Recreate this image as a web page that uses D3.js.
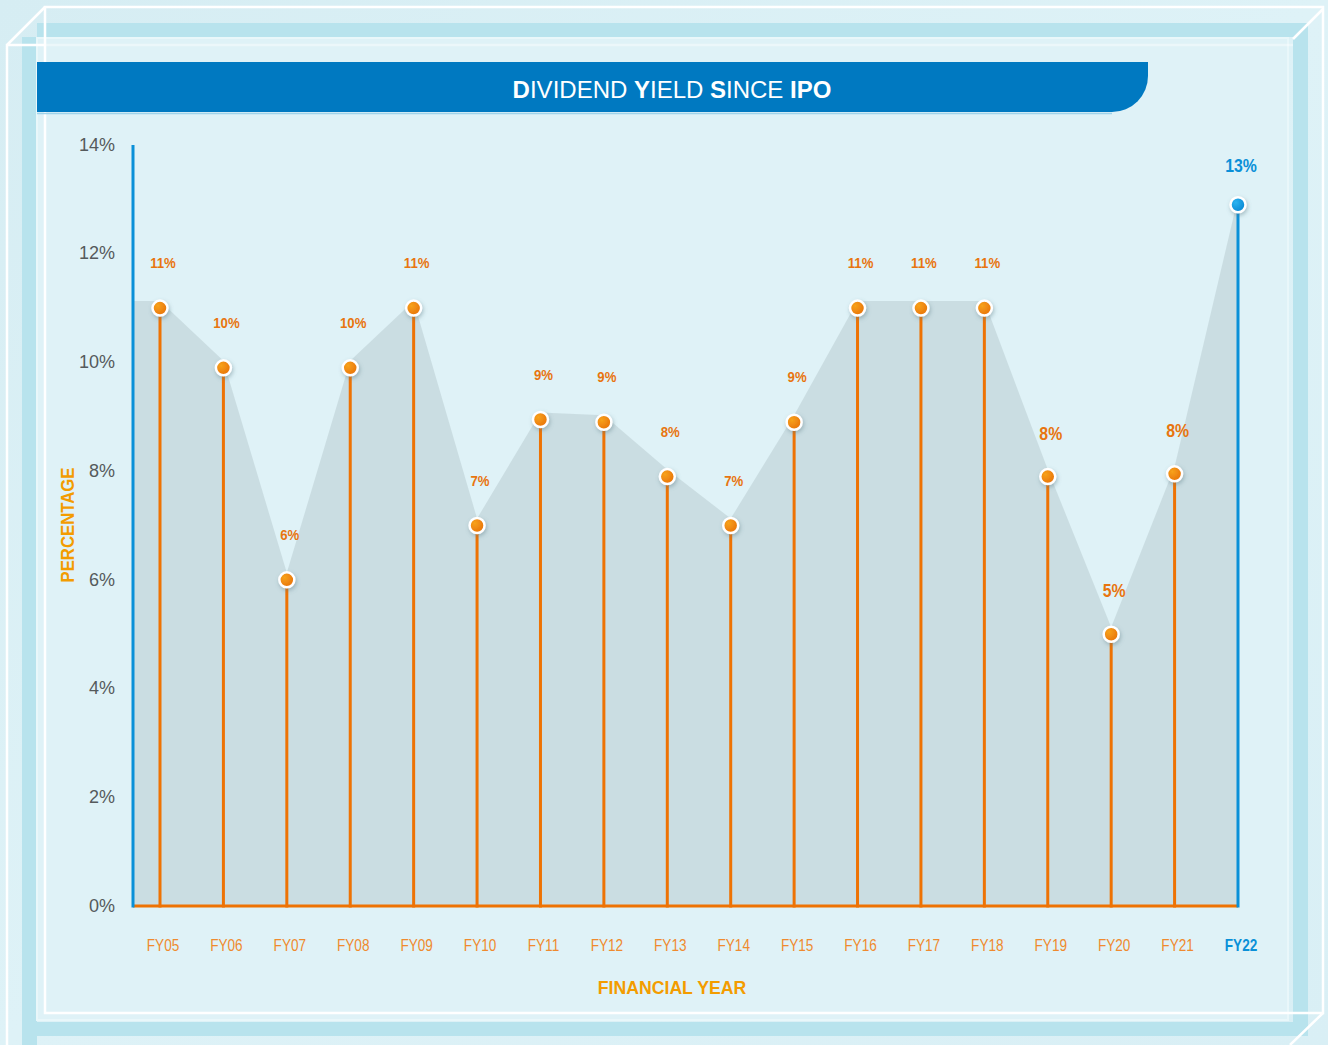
<!DOCTYPE html>
<html>
<head>
<meta charset="utf-8">
<script src="https://cdn.jsdelivr.net/npm/d3@7"></script>
<style>
  body { margin: 0; background: #dcf0f6; }
  svg { display: block; }
</style>
</head>
<body>
<div id="chart"></div>
<script>
var svgWidth = 1328, svgHeight = 1045;

// data
var years = ["FY05","FY06","FY07","FY08","FY09","FY10","FY11","FY12","FY13","FY14","FY15","FY16","FY17","FY18","FY19","FY20","FY21","FY22"];
var yieldPct = [11.0, 9.9, 6.0, 9.9, 11.0, 7.0, 8.95, 8.9, 7.9, 7.0, 8.9, 11.0, 11.0, 11.0, 7.9, 5.0, 7.95, 12.9];
var yieldLabels = ["11%","10%","6%","10%","11%","7%","9%","9%","8%","7%","9%","11%","11%","11%","8%","5%","8%","13%"];
var yTicks = [0, 2, 4, 6, 8, 10, 12, 14];

var orange = "#ee7203", blue = "#0a90d8";
var narrow = "Liberation Sans, Arial, sans-serif";

var svg = d3.select("#chart")
  .append("svg")
  .attr("width", svgWidth)
  .attr("height", svgHeight);

var defs = svg.append("defs");

var bgGrad = defs.append("linearGradient").attr("id", "bgGrad")
  .attr("x1", 0).attr("y1", 0).attr("x2", 1).attr("y2", 1);
bgGrad.append("stop").attr("offset", "0%").attr("stop-color", "#d6edf3");
bgGrad.append("stop").attr("offset", "50%").attr("stop-color", "#def2f7");
bgGrad.append("stop").attr("offset", "100%").attr("stop-color", "#d9eff5");

var dotGrad = defs.append("radialGradient").attr("id", "dotOrange")
  .attr("cx", "35%").attr("cy", "35%").attr("r", "70%");
dotGrad.append("stop").attr("offset", "0%").attr("stop-color", "#f7a21b");
dotGrad.append("stop").attr("offset", "100%").attr("stop-color", "#e8720a");

var dotBlue = defs.append("radialGradient").attr("id", "dotBlue")
  .attr("cx", "35%").attr("cy", "35%").attr("r", "70%");
dotBlue.append("stop").attr("offset", "0%").attr("stop-color", "#2cb3f0");
dotBlue.append("stop").attr("offset", "100%").attr("stop-color", "#0786d2");

var shadow = defs.append("filter").attr("id", "shadow")
  .attr("x", "-50%").attr("y", "-50%").attr("width", "200%").attr("height", "200%");
shadow.append("feDropShadow").attr("dx", 1).attr("dy", 2).attr("stdDeviation", 2)
  .attr("flood-color", "#5a7a85").attr("flood-opacity", 0.45);

// ---- glass box frame ----
svg.append("rect").attr("width", svgWidth).attr("height", svgHeight).attr("fill", "url(#bgGrad)");

var frame = svg.append("g");
// cyan depth bands
frame.append("rect").attr("x", 37).attr("y", 23).attr("width", 1271).attr("height", 14).attr("fill", "#b8e3ed");
frame.append("rect").attr("x", 22).attr("y", 37).attr("width", 15).attr("height", 1008).attr("fill", "#b8e3ed");
frame.append("rect").attr("x", 1293).attr("y", 37).attr("width", 15).attr("height", 985).attr("fill", "#b8e3ed");
frame.append("rect").attr("x", 22).attr("y", 1022).attr("width", 1286).attr("height", 14).attr("fill", "#b8e3ed");
// inner panel
frame.append("rect").attr("x", 37).attr("y", 38).attr("width", 1251).attr("height", 982)
  .attr("fill", "#dff2f7").attr("stroke", "#e9f7fa").attr("stroke-width", 2);
// white outlines
var wl = frame.append("g").attr("stroke", "#ffffff").attr("stroke-width", 2.5).attr("fill", "none");
wl.append("rect").attr("x", 45).attr("y", 7).attr("width", 1278).attr("height", 1006);
wl.append("path").attr("d", "M7,1045 V45 H45 M7,45 L45,7 M1323,9 L1293,39 M1323,1013 L1290,1045");
wl.append("line").attr("x1", 45).attr("y1", 45).attr("x2", 1293).attr("y2", 45).attr("stroke-opacity", 0.4);

// ---- title bar ----
svg.append("path")
  .attr("d", "M37,62 H1148 V76 A36,36 0 0 1 1112,112 H37 Z")
  .attr("fill", "#0079c1");
svg.append("line").attr("x1", 37).attr("x2", 1112).attr("y1", 113.5).attr("y2", 113.5)
  .attr("stroke", "#9fd3ea").attr("stroke-width", 1.5);

var title = svg.append("text")
  .attr("x", 672).attr("y", 98)
  .attr("text-anchor", "middle")
  .attr("fill", "#ffffff")
  .attr("font-family", "Liberation Sans, Arial, sans-serif")
  .attr("font-size", 24);
[["D", 700], ["IVIDEND ", 400], ["Y", 700], ["IELD ", 400], ["S", 700], ["INCE ", 400], ["IPO", 700]]
  .forEach(function(p){ title.append("tspan").attr("font-weight", p[1]).text(p[0]); });

// ---- scales ----
var x = d3.scalePoint().domain(years).range([160, 1238]);
var y = d3.scaleLinear().domain([0, 14]).range([906, 145]);
var axisLeft = 133;

// shaded area (flat lead-in from the axis to the first year)
var areaPts = [{x: axisLeft, v: yieldPct[0]}].concat(years.map(function(d, i){ return {x: x(d), v: yieldPct[i]}; }));
var area = d3.area()
  .x(function(d){ return d.x; })
  .y0(y(0))
  .y1(function(d){ return y(d.v) - 7; });
svg.append("path")
  .datum(areaPts)
  .attr("d", area)
  .attr("fill", "#c7d9de")
  .attr("fill-opacity", 0.85);

// y axis labels
svg.append("g").selectAll("text")
  .data(yTicks)
  .enter()
  .append("text")
  .attr("x", 115)
  .attr("y", function(d){ return y(d); })
  .attr("dy", "0.32em")
  .attr("text-anchor", "end")
  .attr("fill", "#555a5c")
  .attr("font-family", "Liberation Sans, Arial, sans-serif")
  .attr("font-size", 18)
  .text(function(d){ return d + "%"; });

// axis lines
svg.append("line")
  .attr("x1", axisLeft).attr("x2", x("FY22"))
  .attr("y1", y(0)).attr("y2", y(0))
  .attr("stroke", orange).attr("stroke-width", 3);
svg.append("line")
  .attr("x1", axisLeft).attr("x2", axisLeft)
  .attr("y1", y(0) + 1.5).attr("y2", y(14))
  .attr("stroke", blue).attr("stroke-width", 3);

// stems
var last = years.length - 1;
svg.append("g").selectAll("line")
  .data(years)
  .enter()
  .append("line")
  .attr("x1", function(d){ return x(d); })
  .attr("x2", function(d){ return x(d); })
  .attr("y1", function(d, i){ return y(yieldPct[i]); })
  .attr("y2", y(0) + 1.5)
  .attr("stroke", function(d, i){ return i == last ? blue : orange; })
  .attr("stroke-width", 3);

// markers
svg.append("g").selectAll("circle")
  .data(years)
  .enter()
  .append("circle")
  .attr("cx", function(d){ return x(d); })
  .attr("cy", function(d, i){ return y(yieldPct[i]); })
  .attr("r", 7.5)
  .attr("fill", function(d, i){ return i == last ? "url(#dotBlue)" : "url(#dotOrange)"; })
  .attr("stroke", "#ffffff")
  .attr("stroke-width", 2.5)
  .attr("filter", "url(#shadow)");

// value labels (squeezed to look condensed)
function labelOffset(i){ return i == last ? 33 : (i >= 14 ? 37 : 40); }
svg.append("g").selectAll("text")
  .data(years)
  .enter()
  .append("text")
  .attr("transform", function(d, i){
    return "translate(" + (x(d) + 3) + "," + (y(yieldPct[i]) - labelOffset(i)) + ") scale(0.88,1)";
  })
  .attr("text-anchor", "middle")
  .attr("fill", function(d, i){ return i == last ? blue : "#e8750f"; })
  .attr("font-family", narrow)
  .attr("font-weight", 700)
  .attr("font-size", function(d, i){ return i >= 14 ? 18 : 15; })
  .text(function(d, i){ return yieldLabels[i]; });

// x labels
svg.append("g").selectAll("text")
  .data(years)
  .enter()
  .append("text")
  .attr("transform", function(d){ return "translate(" + (x(d) + 3) + ",951) scale(0.85,1)"; })
  .attr("text-anchor", "middle")
  .attr("fill", function(d, i){ return i == last ? blue : "#ef8a2e"; })
  .attr("font-family", narrow)
  .attr("font-weight", function(d, i){ return i == last ? 700 : 400; })
  .attr("font-size", 16)
  .text(function(d){ return d; });

// axis titles
svg.append("text")
  .attr("transform", "translate(672,994) scale(0.93,1)")
  .attr("text-anchor", "middle")
  .attr("fill", "#f39c00")
  .attr("font-family", narrow)
  .attr("font-weight", 700)
  .attr("font-size", 19)
  .text("FINANCIAL YEAR");

svg.append("text")
  .attr("transform", "translate(74,525) rotate(-90) scale(0.93,1)")
  .attr("text-anchor", "middle")
  .attr("fill", "#f39c00")
  .attr("font-family", narrow)
  .attr("font-weight", 700)
  .attr("font-size", 18)
  .text("PERCENTAGE");
</script>
</body>
</html>
